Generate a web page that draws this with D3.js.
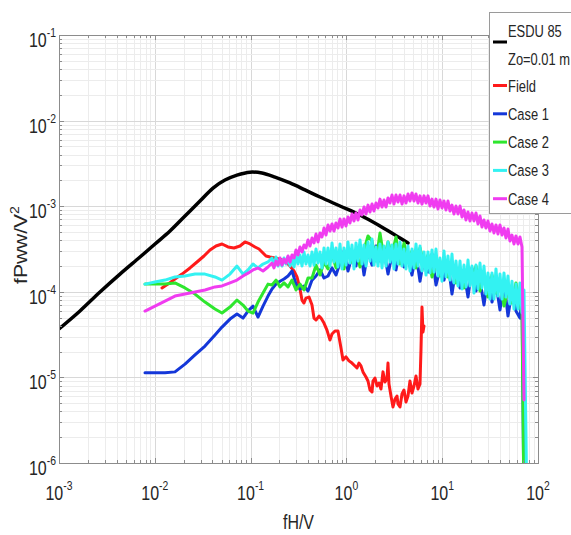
<!DOCTYPE html>
<html>
<head>
<meta charset="utf-8">
<script src="https://cdn.jsdelivr.net/npm/d3@7"></script>
<style>
  body { margin: 0; background: #fff; }
  text { font-family: "Liberation Sans", Arial, Helvetica, sans-serif; fill: #262626; }
</style>
</head>
<body>
<svg id="chart" width="571" height="535"></svg>
<script>
// ---- axis decades ----
const xTickExps = [-3, -2, -1, 0, 1, 2];
const yTickExps = [-6, -5, -4, -3, -2, -1];

// ---- ESDU 85 reference spectrum (Zo = 0.01 m) ----
const esduFreq = [0.001, 0.001656, 0.002679, 0.004331, 0.007009, 0.01005, 0.01441, 0.02066, 0.02963,
  0.04050, 0.05403, 0.07211, 0.09856, 0.1315, 0.1797, 0.2577, 0.3695, 0.5300, 0.8570, 1.386, 2.242, 3.626, 4.395];
const esduVal = [3.68e-5, 5.97e-5, 9.95e-5, 1.61e-4, 2.55e-4, 3.62e-4, 5.13e-4, 7.68e-4, 1.15e-3,
  1.63e-3, 2.02e-3, 2.31e-3, 2.50e-3, 2.44e-3, 2.19e-3, 1.87e-3, 1.55e-3, 1.28e-3, 1.005e-3, 7.89e-4, 5.87e-4, 4.25e-4, 3.72e-4];

// ---- Field measurement ----
const fieldFreq = [0.01189, 0.01373, 0.01624, 0.01922, 0.02331, 0.02757, 0.03262, 0.03769, 0.04353, 0.05028,
  0.05808, 0.06709, 0.07748, 0.08740, 0.09856, 0.1112, 0.1224, 0.1315, 0.1448, 0.1594,
  0.1797, 0.2027, 0.2286, 0.2577, 0.2836, 0.3049, 0.3278, 0.3438, 0.3607, 0.3785,
  0.4070, 0.4373, 0.4588, 0.4815, 0.5174, 0.5429, 0.5834, 0.6270, 0.6739, 0.7072,
  0.7600, 0.8168, 0.8780, 0.9213, 0.9901, 1.064, 1.144, 1.229, 1.290, 1.353,
  1.420, 1.490, 1.601, 1.680, 1.763, 1.850, 1.895, 1.988, 2.086, 2.189,
  2.296, 2.409, 2.528, 2.652, 2.717, 2.783, 2.920, 3.064, 3.215, 3.373,
  3.455, 3.626, 3.804, 3.991, 4.188, 4.394, 4.610, 4.837, 5.075, 5.325,
  5.587, 5.862, 6.004, 6.151, 6.300, 6.453];
const fieldVal = [1.11e-4, 1.23e-4, 1.41e-4, 1.61e-4, 1.90e-4, 2.23e-4, 2.62e-4, 3.08e-4, 3.43e-4, 3.62e-4,
  3.34e-4, 3.25e-4, 3.43e-4, 3.82e-4, 3.62e-4, 3.34e-4, 3.16e-4, 2.92e-4, 2.62e-4, 2.55e-4,
  2.48e-4, 2.41e-4, 2.29e-4, 2.00e-4, 1.75e-4, 1.49e-4, 1.08e-4, 8.01e-5, 7.39e-5, 8.45e-5,
  8.68e-5, 7.00e-5, 4.93e-5, 4.68e-5, 5.21e-5, 4.93e-5, 4.31e-5, 3.57e-5, 2.73e-5, 3.21e-5,
  3.48e-5, 3.48e-5, 2.20e-5, 1.60e-5, 1.74e-5, 1.56e-5, 1.47e-5, 1.36e-5, 1.29e-5, 1.47e-5,
  1.36e-5, 1.16e-5, 1.01e-5, 9.08e-6, 7.13e-6, 6.75e-6, 9.08e-6, 9.84e-6, 7.94e-6, 8.61e-6,
  7.32e-6, 1.16e-5, 8.84e-6, 9.58e-6, 1.47e-5, 8.37e-6, 6.06e-6, 4.51e-6, 5.59e-6, 6.06e-6,
  4.89e-6, 4.51e-6, 6.40e-6, 7.13e-6, 5.16e-6, 6.06e-6, 9.08e-6, 6.57e-6, 7.94e-6, 1.04e-5,
  7.32e-6, 8.37e-6, 2.09e-5, 6.63e-5, 3.38e-5, 3.98e-5];

// ---- wind-tunnel cases 1 and 2 ----
const caseFreq = [0.00790, 0.01005, 0.01278, 0.01624, 0.02066, 0.02628, 0.03342, 0.04249, 0.05028, 0.06094,
  0.07211, 0.08329, 0.09393, 0.1059, 0.1195, 0.1348, 0.1519,
  0.1673, 0.1842, 0.2028, 0.2232, 0.2458, 0.2706, 0.2979, 0.3279, 0.3610, 0.3975,
  0.4376, 0.4817, 0.5303, 0.5838, 0.6427, 0.7076, 0.7790, 0.8576, 0.9441, 1.039,
  1.144, 1.260, 1.387, 1.527, 1.681, 1.850, 2.037, 2.243, 2.469, 2.718,
  2.992, 3.294, 3.627, 3.993, 4.395, 4.839, 5.327, 5.865, 6.456, 7.108,
  7.825, 8.615, 9.484, 10.44, 11.49, 12.65, 13.93, 15.34, 16.88, 18.59,
  20.46, 22.53, 24.80, 27.30, 30.06, 33.09, 36.43, 40.11, 44.15, 48.61,
  53.51, 58.91, 64.86,
  68.1, 71.4, 76.7];

const case1 = [1.13e-5, 1.13e-5, 1.13e-5, 1.16e-5, 1.43e-5, 1.83e-5, 2.32e-5, 3.12e-5, 3.87e-5, 4.80e-5,
  5.49e-5, 4.93e-5, 5.96e-5, 6.81e-5, 5.07e-5, 6.81e-5, 8.92e-5,
  1.08e-4, 1.23e-4, 1.33e-4, 1.41e-4, 1.53e-4, 1.75e-4, 1.23e-4, 1.08e-4, 1.17e-4, 1.02e-4,
  1.37e-4, 1.53e-4, 1.80e-4, 1.45e-4, 1.53e-4, 1.90e-4, 1.57e-4, 2.17e-4, 3.00e-4, 1.75e-4,
  2.62e-4, 2.00e-4, 3.52e-4, 1.57e-4, 3.00e-4, 2.05e-4, 3.43e-4, 2.29e-4, 3.00e-4, 1.61e-4,
  2.69e-4, 1.80e-4, 3.43e-4, 1.95e-4, 2.48e-4, 1.57e-4, 2.76e-4, 1.33e-4, 2.48e-4, 1.70e-4,
  2.76e-4, 1.20e-4, 1.85e-4, 1.37e-4, 2.23e-4, 9.41e-5, 1.90e-4, 1.11e-4, 1.66e-4, 8.68e-5,
  1.90e-4, 1.02e-4, 1.37e-4, 7.00e-5, 1.49e-4, 7.59e-5, 1.23e-4, 6.12e-5, 1.30e-4, 5.21e-5,
  1.02e-4, 5.96e-5, 4.93e-5,
  8.92e-5, 3e-7, null];

const case2 = [1.23e-4, 1.23e-4, 1.23e-4, 1.27e-4, 1.11e-4, 9.41e-5, 7.59e-5, 6.29e-5, 5.65e-5, 6.63e-5,
  8.01e-5, 7.00e-5, 5.96e-5, 5.65e-5, 7.59e-5, 9.67e-5, 1.23e-4,
  1.20e-4, 1.37e-4, 1.14e-4, 1.27e-4, 1.14e-4, 1.37e-4, 1.05e-4, 1.23e-4, 1.05e-4, 1.45e-4,
  1.45e-4, 2.05e-4, 1.57e-4, 2.23e-4, 1.85e-4, 2.76e-4, 1.90e-4, 2.41e-4, 1.85e-4, 3.25e-4,
  2.23e-4, 3.08e-4, 1.95e-4, 3.08e-4, 4.49e-4, 3.92e-4, 2.29e-4, 4.87e-4, 2.41e-4, 3.82e-4,
  2.76e-4, 4.37e-4, 2.11e-4, 3.72e-4, 2.35e-4, 3.00e-4, 1.90e-4, 3.25e-4, 2.11e-4, 2.69e-4,
  1.49e-4, 2.17e-4, 1.53e-4, 2.55e-4, 1.49e-4, 2.17e-4, 1.27e-4, 1.80e-4, 1.11e-4, 1.80e-4,
  1.33e-4, 2.00e-4, 1.02e-4, 1.49e-4, 8.68e-5, 1.57e-4, 9.67e-5, 1.33e-4, 6.81e-5, 1.05e-4,
  7.39e-5, 1.27e-4, 7.19e-5,
  5.65e-5, 3e-7, null];

// ---- wind-tunnel cases 3 and 4 (finer frequency resolution above 0.16) ----
const caseFreqFine = [0.00790, 0.01005, 0.01278, 0.01624, 0.02066, 0.02628, 0.03342, 0.04249, 0.05028, 0.06094,
  0.07211, 0.08329, 0.09393, 0.1059, 0.1195, 0.1348, 0.1519,
  0.1673, 0.1755, 0.1842, 0.1933, 0.2028, 0.2128, 0.2232, 0.2342, 0.2458, 0.2579,
  0.2706, 0.2839, 0.2979, 0.3126, 0.3279, 0.3441, 0.3610, 0.3788, 0.3975, 0.4171,
  0.4376, 0.4592, 0.4817, 0.5054, 0.5303, 0.5564, 0.5838, 0.6126, 0.6427, 0.6744,
  0.7076, 0.7425, 0.7790, 0.8174, 0.8576, 0.8999, 0.9441, 0.9906, 1.039, 1.090,
  1.144, 1.200, 1.260, 1.322, 1.387, 1.455, 1.527, 1.602, 1.681, 1.764,
  1.850, 1.941, 2.037, 2.137, 2.243, 2.354, 2.469, 2.591, 2.718, 2.852,
  2.992, 3.139, 3.294, 3.456, 3.627, 3.806, 3.993, 4.190, 4.395, 4.612,
  4.839, 5.077, 5.327, 5.589, 5.865, 6.154, 6.456, 6.774, 7.108, 7.458,
  7.825, 8.211, 8.615, 9.039, 9.484, 9.951, 10.44, 10.95, 11.49, 12.06,
  12.65, 13.27, 13.93, 14.62, 15.34, 16.10, 16.88, 17.71, 18.59, 19.51,
  20.46, 21.47, 22.53, 23.64, 24.80, 26.02, 27.30, 28.64, 30.06, 31.54,
  33.09, 34.72, 36.43, 38.22, 40.11, 42.09, 44.15, 46.33, 48.61, 51.00,
  53.51, 56.15, 58.91, 61.81, 64.86, 68.06,
  71.4, 76.7];

const case3 = [1.23e-4, 1.30e-4, 1.37e-4, 1.49e-4, 1.53e-4, 1.61e-4, 1.61e-4, 1.49e-4, 1.37e-4, 1.61e-4,
  2.00e-4, 1.61e-4, 1.80e-4, 2.11e-4, 1.90e-4, 2.11e-4, 2.23e-4,
  2.48e-4, 2.05e-4, 2.55e-4, 2.00e-4, 2.35e-4, 2.00e-4, 2.48e-4, 2.11e-4, 2.55e-4, 2.00e-4,
  2.48e-4, 1.95e-4, 2.69e-4, 2.11e-4, 2.69e-4, 2.00e-4, 2.92e-4, 2.11e-4, 2.69e-4, 2.00e-4,
  2.92e-4, 2.05e-4, 3.16e-4, 2.17e-4, 2.92e-4, 1.90e-4, 3.25e-4, 2.11e-4, 3.25e-4, 2.00e-4,
  3.72e-4, 2.23e-4, 3.25e-4, 1.95e-4, 3.62e-4, 1.85e-4, 3.25e-4, 2.05e-4, 3.82e-4, 2.17e-4,
  3.52e-4, 1.85e-4, 3.72e-4, 2.29e-4, 4.03e-4, 2.11e-4, 3.52e-4, 2.00e-4, 3.82e-4, 2.29e-4,
  4.14e-4, 2.05e-4, 3.34e-4, 2.00e-4, 3.62e-4, 1.90e-4, 3.43e-4, 2.00e-4, 3.82e-4, 2.23e-4,
  3.52e-4, 1.85e-4, 3.62e-4, 2.11e-4, 3.82e-4, 2.00e-4, 3.16e-4, 1.85e-4, 3.43e-4, 1.75e-4,
  3.16e-4, 1.90e-4, 3.62e-4, 2.00e-4, 3.43e-4, 1.75e-4, 2.92e-4, 1.57e-4, 2.92e-4, 1.66e-4,
  3.08e-4, 1.70e-4, 3.16e-4, 1.53e-4, 2.48e-4, 1.33e-4, 3.00e-4, 1.49e-4, 2.62e-4, 1.37e-4,
  2.76e-4, 1.27e-4, 2.29e-4, 1.17e-4, 2.29e-4, 1.08e-4, 2.05e-4, 1.14e-4, 2.35e-4, 1.17e-4,
  2.00e-4, 9.67e-5, 2.05e-4, 1.08e-4, 2.17e-4, 1.11e-4, 2.00e-4, 9.41e-5, 1.66e-4, 8.23e-5,
  1.66e-4, 8.23e-5, 1.85e-4, 8.92e-5, 1.61e-4, 8.23e-5, 1.66e-4, 8.68e-5, 1.53e-4, 7.19e-5,
  1.33e-4, 6.29e-5, 1.23e-4, 6.29e-5, 1.27e-4, 5.65e-5,
  1.05e-4, 3e-7];

const case4 = [5.96e-5, 6.81e-5, 7.80e-5, 8.92e-5, 9.41e-5, 9.93e-5, 1.05e-4, 1.14e-4, 1.17e-4, 1.27e-4,
  1.37e-4, 1.53e-4, 1.65e-4, 1.80e-4, 1.90e-4, 1.75e-4, 1.95e-4,
  2.17e-4, 1.90e-4, 2.29e-4, 2.05e-4, 2.48e-4, 2.05e-4, 2.41e-4, 2.17e-4, 2.62e-4, 2.23e-4,
  2.69e-4, 2.48e-4, 3.08e-4, 2.69e-4, 3.34e-4, 2.92e-4, 3.52e-4, 3.25e-4, 4.03e-4, 3.43e-4,
  4.25e-4, 3.72e-4, 4.73e-4, 3.82e-4, 4.87e-4, 4.37e-4, 5.56e-4, 4.60e-4, 6.04e-4, 5.13e-4,
  6.20e-4, 5.13e-4, 6.37e-4, 5.56e-4, 7.09e-4, 5.71e-4, 7.09e-4, 5.87e-4, 7.48e-4, 6.37e-4,
  8.11e-4, 6.72e-4, 8.33e-4, 6.90e-4, 9.03e-4, 7.90e-4, 9.78e-4, 8.11e-4, 1.03e-3, 8.56e-4,
  1.06e-3, 8.79e-4, 1.09e-3, 9.53e-4, 1.21e-3, 9.78e-4, 1.18e-3, 9.78e-4, 1.25e-3, 1.09e-3,
  1.35e-3, 1.06e-3, 1.35e-3, 1.12e-3, 1.35e-3, 1.06e-3, 1.32e-3, 1.09e-3, 1.39e-3, 1.15e-3,
  1.43e-3, 1.15e-3, 1.39e-3, 1.09e-3, 1.32e-3, 1.06e-3, 1.32e-3, 1.09e-3, 1.32e-3, 1.005e-3,
  1.21e-3, 9.78e-4, 1.21e-3, 9.28e-4, 1.18e-3, 9.53e-4, 1.15e-3, 9.03e-4, 1.15e-3, 8.79e-4,
  1.03e-3, 8.11e-4, 1.005e-3, 8.11e-4, 1.005e-3, 7.48e-4, 9.03e-4, 6.90e-4, 8.56e-4, 6.72e-4,
  8.33e-4, 6.72e-4, 8.33e-4, 6.20e-4, 7.68e-4, 5.71e-4, 6.90e-4, 5.56e-4, 6.72e-4, 5.13e-4,
  6.20e-4, 4.87e-4, 6.04e-4, 4.73e-4, 6.04e-4, 4.60e-4, 5.56e-4, 4.25e-4, 5.41e-4, 3.92e-4,
  4.60e-4, 3.62e-4, 4.49e-4, 3.62e-4, 4.37e-4, 3.34e-4,
  5.44e-6, null];

// ---- legend ----
const legendNames = ["ESDU 85", "Field", "Case 1", "Case 2", "Case 3", "Case 4"];
const legendSubtitle = "Zo=0.01 m";
const seriesColors = ["#000000", "#ff1a1a", "#1437d9", "#2ee62e", "#33f2f2", "#f03cf0"];

// ---- layout ----
const svg = d3.select("#chart");
const box = { left: 59, right: 538, top: 35, bottom: 463 };
const x = d3.scaleLog().domain([1e-3, 1e2]).range([box.left, box.right]);
const y = d3.scaleLog().domain([1e-6, 1e-1]).range([box.bottom, box.top]);

svg.append("rect").attr("width", 571).attr("height", 535).attr("fill", "#fff");

const allX = x.ticks();
const allY = y.ticks();
const isDecade = v => Math.abs(Math.log10(v) - Math.round(Math.log10(v))) < 1e-9;

// grid lines
const grid = svg.append("g").attr("shape-rendering", "crispEdges");
grid.selectAll(".gx").data(allX).join("line")
  .attr("x1", d => Math.round(x(d)) + 0.5).attr("x2", d => Math.round(x(d)) + 0.5)
  .attr("y1", box.top).attr("y2", box.bottom)
  .attr("stroke", d => isDecade(d) ? "#d8d8d8" : "#ececec").attr("stroke-width", 1);
grid.selectAll(".gy").data(allY).join("line")
  .attr("y1", d => Math.round(y(d)) + 0.5).attr("y2", d => Math.round(y(d)) + 0.5)
  .attr("x1", box.left).attr("x2", box.right)
  .attr("stroke", d => isDecade(d) ? "#d8d8d8" : "#ececec").attr("stroke-width", 1);

// data lines
svg.append("clipPath").attr("id", "plotClip").append("rect")
  .attr("x", box.left).attr("y", box.top)
  .attr("width", box.right - box.left).attr("height", box.bottom - box.top);

const plotG = svg.append("g").attr("clip-path", "url(#plotClip)");
const line = d3.line()
  .defined(d => d[1] != null)
  .x(d => x(d[0])).y(d => y(d[1]));

function drawSeries(freq, vals, color, width, curve) {
  const pts = freq.map((f, i) => [f, vals[i]]);
  plotG.append("path")
    .datum(pts)
    .attr("fill", "none")
    .attr("stroke", color)
    .attr("stroke-width", width)
    .attr("stroke-linejoin", "round")
    .attr("stroke-linecap", "round")
    .attr("d", line.curve(curve || d3.curveLinear)(pts));
}

drawSeries(esduFreq, esduVal, seriesColors[0], 3.5, d3.curveCatmullRom);
drawSeries(fieldFreq, fieldVal, seriesColors[1], 3);
drawSeries(caseFreq, case1, seriesColors[2], 3);
drawSeries(caseFreq, case2, seriesColors[3], 3);
drawSeries(caseFreqFine, case3, seriesColors[4], 3);
drawSeries(caseFreqFine, case4, seriesColors[5], 3);

// axis box and inward ticks
const axisColor = "#8c8c8c";
const axes = svg.append("g").attr("shape-rendering", "crispEdges");
axes.append("rect")
  .attr("x", box.left + 0.5).attr("y", box.top + 0.5)
  .attr("width", box.right - box.left).attr("height", box.bottom - box.top)
  .attr("fill", "none").attr("stroke", axisColor);
allX.forEach(d => {
  const len = isDecade(d) ? 5 : 3;
  const px = Math.round(x(d)) + 0.5;
  axes.append("line").attr("x1", px).attr("x2", px).attr("y1", box.bottom).attr("y2", box.bottom - len).attr("stroke", axisColor);
  axes.append("line").attr("x1", px).attr("x2", px).attr("y1", box.top).attr("y2", box.top + len).attr("stroke", axisColor);
});
allY.forEach(d => {
  const len = isDecade(d) ? 5 : 3;
  const py = Math.round(y(d)) + 0.5;
  axes.append("line").attr("y1", py).attr("y2", py).attr("x1", box.left).attr("x2", box.left + len).attr("stroke", axisColor);
  axes.append("line").attr("y1", py).attr("y2", py).attr("x1", box.right).attr("x2", box.right - len).attr("stroke", axisColor);
});

// tick labels: 10 with superscript exponent
function powerLabel(g, exp, anchor, size, supSize) {
  const t = g.append("text").attr("text-anchor", anchor).attr("font-size", size);
  t.append("tspan").text("10");
  t.append("tspan").attr("font-size", supSize).attr("dy", -size * 0.5).text(String(exp));
  return t;
}
const squeeze = 0.8;
xTickExps.forEach(e => {
  const g = svg.append("g").attr("transform", `translate(${x(Math.pow(10, e))},${box.bottom + 37}) scale(${squeeze},1)`);
  powerLabel(g, e, "middle", 20, 13);
});
yTickExps.forEach(e => {
  const g = svg.append("g").attr("transform", `translate(${box.left - 3},${y(Math.pow(10, e)) + 12}) scale(${squeeze},1)`);
  powerLabel(g, e, "end", 20, 13);
});

// axis titles
svg.append("g").attr("transform", `translate(${(box.left + box.right) / 2},529) scale(0.76,1)`)
  .append("text").attr("text-anchor", "middle").attr("font-size", 21).text("fH/V");
const yt = svg.append("g").attr("transform", `translate(27,${(box.top + box.bottom) / 2 - 4}) scale(0.85,1) rotate(-90)`)
  .append("text").attr("text-anchor", "middle").attr("font-size", 21);
yt.append("tspan").text("fPww/V");
yt.append("tspan").attr("font-size", 14).attr("dy", -9).text("2");

// legend
const lg = svg.append("g");
lg.append("rect").attr("x", 489.5).attr("y", 12.5).attr("width", 120).attr("height", 201)
  .attr("fill", "#fff").attr("stroke", "#9a9a9a").attr("shape-rendering", "crispEdges");
const sampleX0 = 493, sampleX1 = 507, textX = 508;
function legendText(txt, cy) {
  lg.append("g").attr("transform", `translate(${textX},${cy + 6}) scale(0.76,1)`)
    .append("text").attr("font-size", 17).text(txt);
}
// first entry spans two text lines
legendText(legendNames[0], 31);
legendText(legendSubtitle, 59);
lg.append("line").attr("x1", sampleX0).attr("x2", sampleX1).attr("y1", 42).attr("y2", 42)
  .attr("stroke", seriesColors[0]).attr("stroke-width", 3);
const rowY = [85.5, 113.8, 142.1, 170.4, 198.7];
legendNames.slice(1).forEach((name, i) => {
  lg.append("line").attr("x1", sampleX0).attr("x2", sampleX1).attr("y1", rowY[i]).attr("y2", rowY[i])
    .attr("stroke", seriesColors[i + 1]).attr("stroke-width", 3);
  legendText(name, rowY[i]);
});
</script>
</body>
</html>
